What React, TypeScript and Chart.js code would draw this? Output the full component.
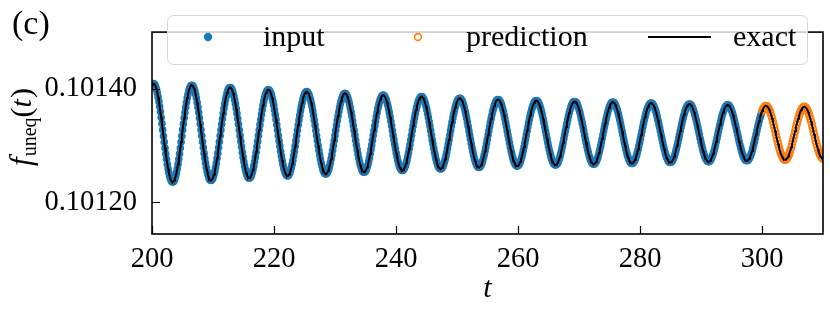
import React, { useEffect, useRef } from "react";
import { Chart, registerables } from "chart.js";

Chart.register(...registerables);

// sampling grid of the time series
const T_START = 200;
const T_STEP = 0.1255;
// values are stored as offsets from CENTER, in units of 1e-7
const CENTER = 0.1013224;
const OFFSET_UNIT = 1e-7;

const inputOffsets: number[] = [
  841, 861, 868, 861, 841, 807, 761, 702, 633, 553, 465, 370, 268, 163, 55,
  -55, -163, -268, -370, -465, -553, -633, -702, -761, -807, -841, -861, -868, -861, -841, -807, -761, -702, -633, -553, -465, -370, -268, -163, -55,
  53, 157, 260, 358, 450, 535, 612, 680, 736, 781, 814, 833, 840, 833, 814, 781, 736, 680, 612, 535, 450, 358, 260, 157, 53,
  -53, -157, -260, -358, -450, -535, -612, -680, -736, -781, -814, -833, -840, -833, -814, -781, -736, -680, -612, -535, -450, -358, -260, -157, -53,
  50, 150, 247, 341, 429, 510, 583, 647, 701, 744, 775, 794, 800, 794, 775, 744, 701, 647, 583, 510, 429, 341, 247, 150, 50,
  -50, -150, -247, -341, -429, -510, -583, -647, -701, -744, -775, -794, -800, -794, -775, -744, -701, -647, -583, -510, -429, -341, -247, -150, -50,
  48, 142, 235, 324, 407, 484, 554, 615, 666, 707, 736, 754, 760, 754, 736, 707, 666, 615, 554, 484, 407, 324, 235, 142, 48,
  -48, -142, -235, -324, -407, -484, -554, -615, -666, -707, -736, -754, -760, -754, -736, -707, -666, -615, -554, -484, -407, -324, -235, -142, -48,
  46, 136, 224, 309, 389, 463, 529, 587, 636, 675, 703, 720, 726, 720, 703, 675, 636, 587, 529, 463, 389, 309, 224, 136, 46,
  -46, -136, -224, -309, -389, -463, -529, -587, -636, -675, -703, -720, -726, -720, -703, -675, -636, -587, -529, -463, -389, -309, -224, -136, -46,
  44, 130, 215, 296, 372, 443, 507, 562, 609, 646, 673, 690, 695, 690, 673, 646, 609, 562, 507, 443, 372, 296, 215, 130, 44,
  -44, -130, -215, -296, -372, -443, -507, -562, -609, -646, -673, -690, -695, -690, -673, -646, -609, -562, -507, -443, -372, -296, -215, -130, -44,
  42, 124, 205, 283, 356, 423, 484, 537, 582, 617, 643, 659, 664, 659, 643, 617, 582, 537, 484, 423, 356, 283, 205, 124, 42,
  -42, -124, -205, -283, -356, -423, -484, -537, -582, -617, -643, -659, -664, -659, -643, -617, -582, -537, -484, -423, -356, -283, -205, -124, -42,
  40, 120, 197, 272, 342, 407, 465, 516, 559, 593, 618, 633, 638, 633, 618, 593, 559, 516, 465, 407, 342, 272, 197, 120, 40,
  -40, -120, -197, -272, -342, -407, -465, -516, -559, -593, -618, -633, -638, -633, -618, -593, -559, -516, -465, -407, -342, -272, -197, -120, -40,
  38, 114, 188, 260, 327, 389, 445, 493, 535, 567, 591, 605, 610, 605, 591, 567, 535, 493, 445, 389, 327, 260, 188, 114, 38,
  -38, -114, -188, -260, -327, -389, -445, -493, -535, -567, -591, -605, -610, -605, -591, -567, -535, -493, -445, -389, -327, -260, -188, -114, -38,
  37, 110, 181, 250, 315, 374, 428, 475, 514, 546, 569, 582, 587, 582, 569, 546, 514, 475, 428, 374, 315, 250, 181, 110, 37,
  -37, -110, -181, -250, -315, -374, -428, -475, -514, -546, -569, -582, -587, -582, -569, -546, -514, -475, -428, -374, -315, -250, -181, -110, -37,
  36, 106, 176, 242, 304, 362, 414, 460, 498, 528, 550, 564, 568, 564, 550, 528, 498, 460, 414, 362, 304, 242, 176, 106, 36,
  -36, -106, -176, -242, -304, -362, -414, -460, -498, -528, -550, -564, -568, -564, -550, -528, -498, -460, -414, -362, -304, -242, -176, -106, -36,
  35, 104, 171, 235, 296, 352, 403, 447, 485, 514, 536, 549, 553, 549, 536, 514, 485, 447, 403, 352, 296, 235, 171, 104, 35,
  -35, -104, -171, -235, -296, -352, -403, -447, -485, -514, -536, -549, -553, -549, -536, -514, -485, -447, -403, -352, -296, -235, -171, -104, -35,
  34, 101, 167, 230, 289, 344, 394, 437, 473, 502, 523, 536, 540, 536, 523, 502, 473, 437, 394, 344, 289, 230, 167, 101, 34,
  -34, -101, -167, -230, -289, -344, -394, -437, -473, -502, -523, -536, -540, -536, -523, -502, -473, -437, -394, -344, -289, -230, -167, -101, -34,
  33, 98, 162, 223, 281, 334, 382, 424, 459, 487, 508, 520, 524, 520, 508, 487, 459, 424, 382, 334, 281, 223, 162, 98, 33,
  -33, -98, -162, -223, -281, -334, -382, -424, -459, -487, -508, -520, -524, -520, -508, -487, -459, -424, -382, -334, -281, -223, -162, -98, -33,
  32, 95, 157, 216, 272, 324, 370, 411, 445, 472, 492, 504, 508, 504, 492, 472, 445, 411, 370, 324, 272, 216, 157, 95, 32,
  -32, -95, -157, -216, -272, -324, -370, -411, -445, -472, -492, -504, -508, -504, -492, -472, -445, -411, -370, -324, -272, -216, -157, -95, -32,
  31, 92, 152, 209, 264, 314, 359, 398, 431, 457, 477, 488, 492, 488, 477, 457, 431, 398, 359, 314, 264, 209, 152, 92, 31,
  -31, -92, -152, -209, -264, -314, -359, -398, -431, -457, -477, -488, -492, -488, -477, -457, -431, -398, -359, -314, -264, -209, -152, -92, -31,
  30, 89, 147, 203, 255, 303, 347,
];

const predictionOffsets: number[] = [
  385, 417, 443, 461, 472, 476, 472, 461, 443, 417, 385, 347, 303, 255, 203, 147, 89, 30,
  -30, -89, -147, -203, -255, -303, -347, -385, -417, -443, -461, -472, -476, -472, -461, -443, -417, -385, -347, -303, -255, -203, -147, -89, -30,
  29, 86, 142, 196, 246, 293, 335, 372, 403, 428, 446, 456, 460, 456, 446, 428, 403, 372, 335, 293, 246, 196, 142, 86, 29,
  -29, -86, -142, -196, -246, -293, -335, -372, -403, -428, -446, -456,
];

const xTickValues = [200, 220, 240, 260, 280, 300];
const yTickValues = [0.1012, 0.1014];
const xLimits = [200, 310];
const yLimits = [0.101144, 0.1015];
const seriesLabels = ["input", "prediction", "exact"];
const panelLabel = "(c)";
const xTitle = "t";

const SERIF = "'Liberation Serif', 'Times New Roman', serif";

const toPoint = (offset: number, index: number) => ({
  x: T_START + index * T_STEP,
  y: CENTER + offset * OFFSET_UNIT,
});

const decorPlugin = {
  id: "decor",
  afterDatasetsDraw(chart: any) {
    const { ctx, chartArea: a } = chart;
    const xs = chart.scales.x;
    const ys = chart.scales.y;
    const ds = chart.data.datasets;
    ctx.save();
    // inward ticks
    ctx.strokeStyle = "#000";
    ctx.lineWidth = 1.2;
    ctx.beginPath();
    xTickValues.forEach((v) => {
      const px = Math.round(xs.getPixelForValue(v)) + 0.5;
      ctx.moveTo(px, a.bottom);
      ctx.lineTo(px, a.bottom - 8);
    });
    yTickValues.forEach((v) => {
      const py = Math.round(ys.getPixelForValue(v)) + 0.5;
      ctx.moveTo(a.left, py);
      ctx.lineTo(a.left + 8, py);
    });
    ctx.stroke();
    // frame
    ctx.lineWidth = 1.6;
    ctx.strokeRect(a.left, a.top, a.right - a.left, a.bottom - a.top);

    // legend
    ctx.beginPath();
    ctx.roundRect(167.5, 15.5, 640, 49, 6);
    ctx.fillStyle = "rgba(255,255,255,0.8)";
    ctx.fill();
    ctx.strokeStyle = "#d6d6d6";
    ctx.lineWidth = 1;
    ctx.stroke();

    ctx.font = `30px ${SERIF}`;
    ctx.textBaseline = "alphabetic";
    ctx.textAlign = "left";

    ctx.fillStyle = ds[0].backgroundColor;
    ctx.beginPath();
    ctx.arc(208, 37, 4.2, 0, Math.PI * 2);
    ctx.fill();
    ctx.fillStyle = "#000";
    ctx.fillText(ds[0].label, 263, 46);

    ctx.strokeStyle = ds[1].borderColor;
    ctx.lineWidth = 1.6;
    ctx.beginPath();
    ctx.arc(418, 37, 3.4, 0, Math.PI * 2);
    ctx.stroke();
    ctx.fillText(ds[1].label, 466, 46);

    ctx.strokeStyle = ds[2].borderColor;
    ctx.lineWidth = 2;
    ctx.beginPath();
    ctx.moveTo(648, 37);
    ctx.lineTo(711, 37);
    ctx.stroke();
    ctx.fillText(ds[2].label, 733, 46);
    ctx.restore();
  },
  afterDraw(chart: any) {
    const { ctx, chartArea: a } = chart;
    ctx.save();
    ctx.fillStyle = "#000";
    ctx.textBaseline = "alphabetic";
    // panel label
    ctx.font = `34px ${SERIF}`;
    ctx.textAlign = "left";
    ctx.fillText(panelLabel, 12, 34);
    // x title
    ctx.font = `italic 30px ${SERIF}`;
    ctx.textAlign = "center";
    ctx.fillText(xTitle, (a.left + a.right) / 2, 297);
    // y title: f_uneq(t)
    ctx.textAlign = "left";
    const parts = [
      { t: "f", f: `italic 31px ${SERIF}`, dy: 0, gap: 1 },
      { t: "uneq", f: `20px ${SERIF}`, dy: 5, gap: 0 },
      { t: "(", f: `30px ${SERIF}`, dy: 0, gap: 0 },
      { t: "t", f: `italic 30px ${SERIF}`, dy: 0, gap: 1 },
      { t: ")", f: `30px ${SERIF}`, dy: 0, gap: 0 },
    ];
    let total = 0;
    parts.forEach((p) => {
      ctx.font = p.f;
      total += ctx.measureText(p.t).width + p.gap;
    });
    ctx.translate(31, 127 + total / 2);
    ctx.rotate(-Math.PI / 2);
    let x = 0;
    parts.forEach((p) => {
      ctx.font = p.f;
      ctx.fillText(p.t, x, p.dy);
      x += ctx.measureText(p.t).width + p.gap;
    });
    ctx.restore();
  },
};

export default function App() {
  const canvasRef = useRef<HTMLCanvasElement | null>(null);

  useEffect(() => {
    const canvas = canvasRef.current;
    if (!canvas) return;
    const inputPoints = inputOffsets.map((o, i) => toPoint(o, i));
    const predictionPoints = predictionOffsets.map((o, i) =>
      toPoint(o, i + inputOffsets.length)
    );
    const exactPoints = [...inputPoints, ...predictionPoints];

    const tickFont = { family: SERIF, size: 28.5 };

    const chart = new Chart(canvas, {
      type: "scatter",
      data: {
        datasets: [
          {
            label: seriesLabels[0],
            data: inputPoints,
            pointRadius: 3.8,
            pointBorderWidth: 0,
            backgroundColor: "#1f77b4",
            borderColor: "#1f77b4",
            order: 2,
            clip: 0,
          },
          {
            label: seriesLabels[1],
            data: predictionPoints,
            pointRadius: 3.4,
            pointBorderWidth: 1.5,
            backgroundColor: "rgba(0,0,0,0)",
            borderColor: "#ff7f0e",
            order: 1,
            clip: 0,
          },
          {
            label: seriesLabels[2],
            data: exactPoints,
            showLine: true,
            pointRadius: 0,
            borderWidth: 2,
            borderColor: "#000000",
            backgroundColor: "#000000",
            order: 0,
            clip: 0,
          },
        ],
      },
      options: {
        animation: false,
        responsive: false,
        devicePixelRatio: 1,
        events: [],
        layout: { padding: { top: 12, right: 7, left: 0, bottom: 0 } },
        plugins: {
          legend: { display: false },
          tooltip: { enabled: false },
          title: { display: false },
        },
        scales: {
          x: {
            type: "linear",
            min: xLimits[0],
            max: xLimits[1],
            grid: { display: false, drawTicks: false },
            border: { display: false },
            afterBuildTicks: (scale: any) => {
              scale.ticks = xTickValues.map((v) => ({ value: v }));
            },
            afterFit: (scale: any) => {
              scale.height = 77;
            },
            ticks: {
              font: tickFont,
              color: "#000",
              padding: 8,
              maxRotation: 0,
              autoSkip: false,
              callback: (v: any) => String(v),
            },
          },
          y: {
            type: "linear",
            min: yLimits[0],
            max: yLimits[1],
            grid: { display: false, drawTicks: false },
            border: { display: false },
            afterBuildTicks: (scale: any) => {
              scale.ticks = yTickValues.map((v) => ({ value: v }));
            },
            afterFit: (scale: any) => {
              scale.width = 152;
            },
            ticks: {
              font: tickFont,
              color: "#000",
              padding: 15,
              autoSkip: false,
              callback: (v: any) => Number(v).toFixed(5),
            },
          },
        },
      },
      plugins: [decorPlugin],
    } as any);

    return () => {
      chart.destroy();
    };
  }, []);

  return (
    <div style={{ position: "absolute", left: 0, top: 0, width: 830, height: 311, background: "#fff" }}>
      <canvas ref={canvasRef} width={830} height={311} style={{ display: "block" }} />
    </div>
  );
}
